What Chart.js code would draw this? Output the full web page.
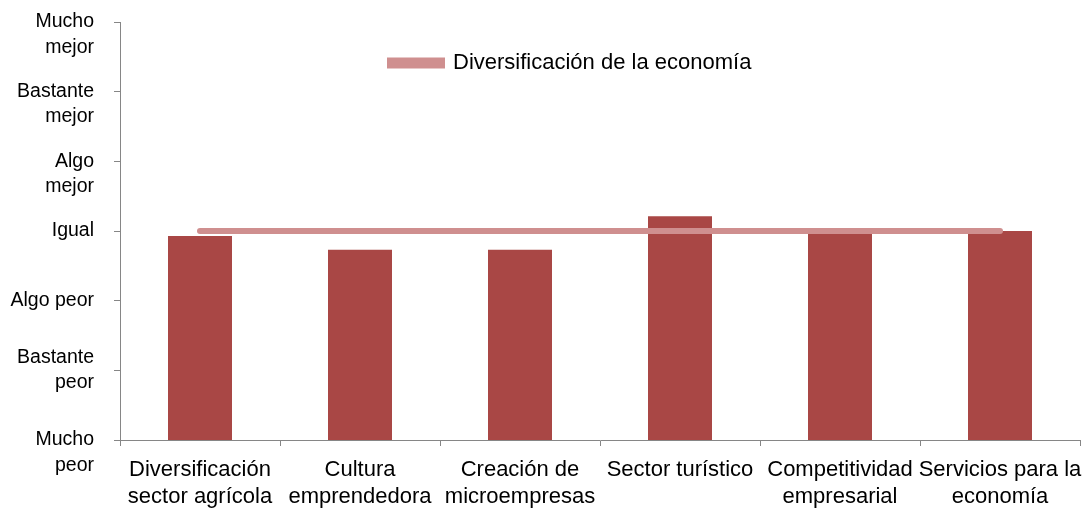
<!DOCTYPE html>
<html>
<head>
<meta charset="utf-8">
<script src="https://cdn.jsdelivr.net/npm/chart.js@4"></script>
<style>
  body { margin: 0; background: #fff; }
  #wrap { width: 1082px; height: 512px; }
</style>
</head>
<body>
<div id="wrap"><canvas id="chart"></canvas></div>
<script>
// Datos
const categorias = [
  ["Diversificación", "sector agrícola"],
  ["Cultura", "emprendedora"],
  ["Creación de", "microempresas"],
  ["Sector turístico"],
  ["Competitividad", "empresarial"],
  ["Servicios para la", "economía"],
];
const valoresBarras = [3.93, 3.73, 3.73, 4.21, 3.99, 4.0];
const valoresLinea = [4, 4, 4, 4, 4, 4];
const nombreLinea = "Diversificación de la economía";
// Escala 1..7
const etiquetasY = {
  1: ["", "Mucho", "peor"],
  2: ["Bastante", "peor"],
  3: ["Algo peor"],
  4: ["Igual"],
  5: ["", "Algo", "mejor"],
  6: ["", "Bastante", "mejor"],
  7: ["", "Mucho", "mejor"],
};

const fuente = "'Liberation Sans', Arial, sans-serif";

// Coloca la leyenda dentro del área del gráfico
const posLeyenda = {
  id: "posLeyenda",
  afterLayout(chart) {
    const lg = chart.legend;
    const w = lg.right - lg.left;
    const h = lg.bottom - lg.top;
    lg.left = 380;
    lg.right = lg.left + w;
    lg.top = 42;
    lg.bottom = lg.top + h;
  },
};

const ctx = document.getElementById("chart").getContext("2d");
new Chart(ctx, {
  data: {
    labels: categorias,
    datasets: [
      {
        type: "line",
        label: nombreLinea,
        data: valoresLinea,
        borderColor: "#cf8f8f",
        backgroundColor: "#cf8f8f",
        borderWidth: 6,
        borderCapStyle: "round",
        pointRadius: 0,
        order: 0,
      },
      {
        type: "bar",
        label: "barras",
        data: valoresBarras,
        backgroundColor: "#a94745",
        barPercentage: 0.4,
        categoryPercentage: 1,
        order: 1,
      },
    ],
  },
  plugins: [posLeyenda],
  options: {
    responsive: true,
    maintainAspectRatio: false,
    animation: false,
    layout: { padding: { top: 22, right: 2, left: 0, bottom: 0 } },
    plugins: {
      tooltip: { enabled: false },
      legend: {
        position: "chartArea",
        align: "start",
        labels: {
          filter: (item) => item.text === nombreLinea,
          boxWidth: 52,
          boxHeight: 5,
          padding: 10,
          color: "#000",
          font: { family: fuente, size: 22 },
        },
      },
    },
    scales: {
      x: {
        offset: true,
        grid: {
          offset: true,
          drawOnChartArea: false,
          drawTicks: true,
          tickLength: 6,
          color: "#868686",
        },
        border: { color: "#868686" },
        ticks: {
          color: "#000",
          padding: 11,
          maxRotation: 0,
          autoSkip: false,
          font: { family: fuente, size: 22, lineHeight: 1.22 },
        },
        afterFit: (scale) => {
          scale.height = 72;
          scale.paddingLeft = 0;
          scale.paddingRight = 0;
        },
      },
      y: {
        min: 1,
        max: 7,
        grid: {
          drawOnChartArea: false,
          drawTicks: true,
          tickLength: 6,
          color: "#868686",
        },
        border: { color: "#868686" },
        ticks: {
          stepSize: 1,
          autoSkip: false,
          color: "#000",
          padding: 20,
          font: { family: fuente, size: 19.5, lineHeight: 1.3 },
          callback: (v) => etiquetasY[v] || "",
        },
        afterFit: (scale) => {
          scale.width = 120;
          scale.paddingTop = 0;
          scale.paddingBottom = 0;
        },
      },
    },
  },
});
</script>
</body>
</html>
